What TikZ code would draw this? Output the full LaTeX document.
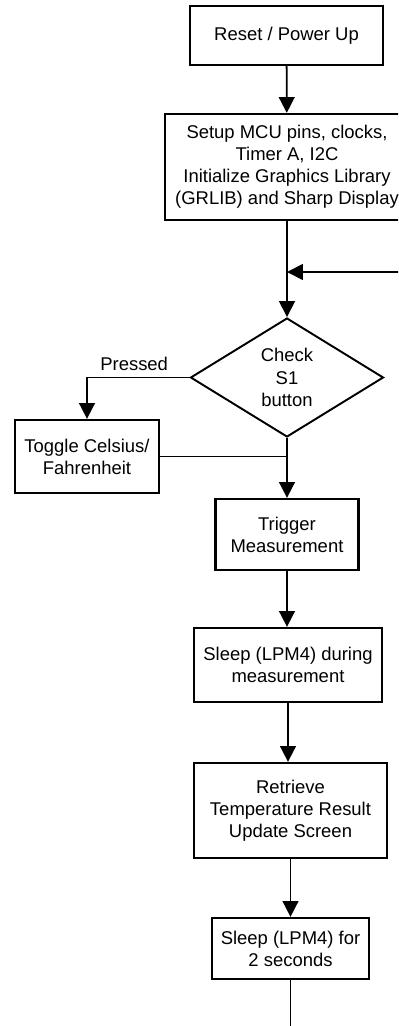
\documentclass[tikz,border=0pt]{standalone}
\usepackage{fontspec}
\setmainfont{Liberation Sans}
\usetikzlibrary{shapes.geometric,arrows.meta}

\begin{document}
\begin{tikzpicture}[
    box/.style={draw, line width=1.3pt, align=center, inner sep=0pt, font=\fontsize{10.5}{12.6}\selectfont},
    decision/.style={draw, diamond, line width=1.1pt, align=center, inner sep=0pt, font=\fontsize{10.5}{12.6}\selectfont},
    arr/.style={line width=1pt, -{Triangle[width=9pt,length=9pt]}},
    ln/.style={line width=1pt}
  ]
    \useasboundingbox (0, 0) rectangle (7.96, -20.52);
    \clip (0, 0) rectangle (7.96, -20.52);

    \node[box, minimum width=3.86cm, minimum height=1.18cm] (reset) at (5.73, -0.71) {Reset / Power Up};
    \node[box, minimum width=4.88cm, minimum height=2.12cm] (setup) at (5.74, -3.34) {Setup MCU pins, clocks,\\Timer A, I2C\\Initialize Graphics Library\\(GRLIB) and Sharp Display};
    \node[decision, minimum width=3.86cm, minimum height=2.38cm] (check) at (5.74, -7.55) {Check\\S1\\button};
    \node[box, minimum width=2.88cm, minimum height=1.46cm] (toggle) at (1.74, -9.13) {Toggle Celsius/\\Fahrenheit};
    \node[box, minimum width=2.86cm, minimum height=1.42cm] (trigger) at (5.74, -10.69) {Trigger\\Measurement};
    \node[box, minimum width=3.76cm, minimum height=1.48cm] (sleepm) at (5.76, -13.3) {Sleep (LPM4) during\\measurement};
    \node[box, minimum width=3.86cm, minimum height=1.9cm] (retrieve) at (5.81, -16.21) {Retrieve\\Temperature Result\\Update Screen};
    \node[box, minimum width=3.14cm, minimum height=1.22cm] (sleeps) at (5.81, -18.97) {Sleep (LPM4) for\\2 seconds};

    \coordinate (loopin) at (8.2, -5.44);
    \coordinate (loopout) at (5.81, -20.8);

    \draw[arr] (reset) -- (setup);
    \draw[arr] (setup) -- (check);
    \draw[arr] (loopin) -- (loopin -| check);
    \draw[arr] (check.west) -| (toggle.north) node [pos=0.27, above, font=\fontsize{10.5}{12.6}\selectfont] {Pressed};
    \draw[ln] (toggle.east) -- (toggle.east -| check);
    \draw[arr] (check) -- (trigger);
    \draw[arr] (trigger.south) -- (trigger.south |- sleepm.north);
    \draw[arr] (sleepm.south) -- (sleepm.south |- retrieve.north);
    \draw[arr] (retrieve) -- (sleeps);
    \draw[ln] (sleeps) -- (sleeps.south |- loopout);
  \end{tikzpicture}
\end{document}
